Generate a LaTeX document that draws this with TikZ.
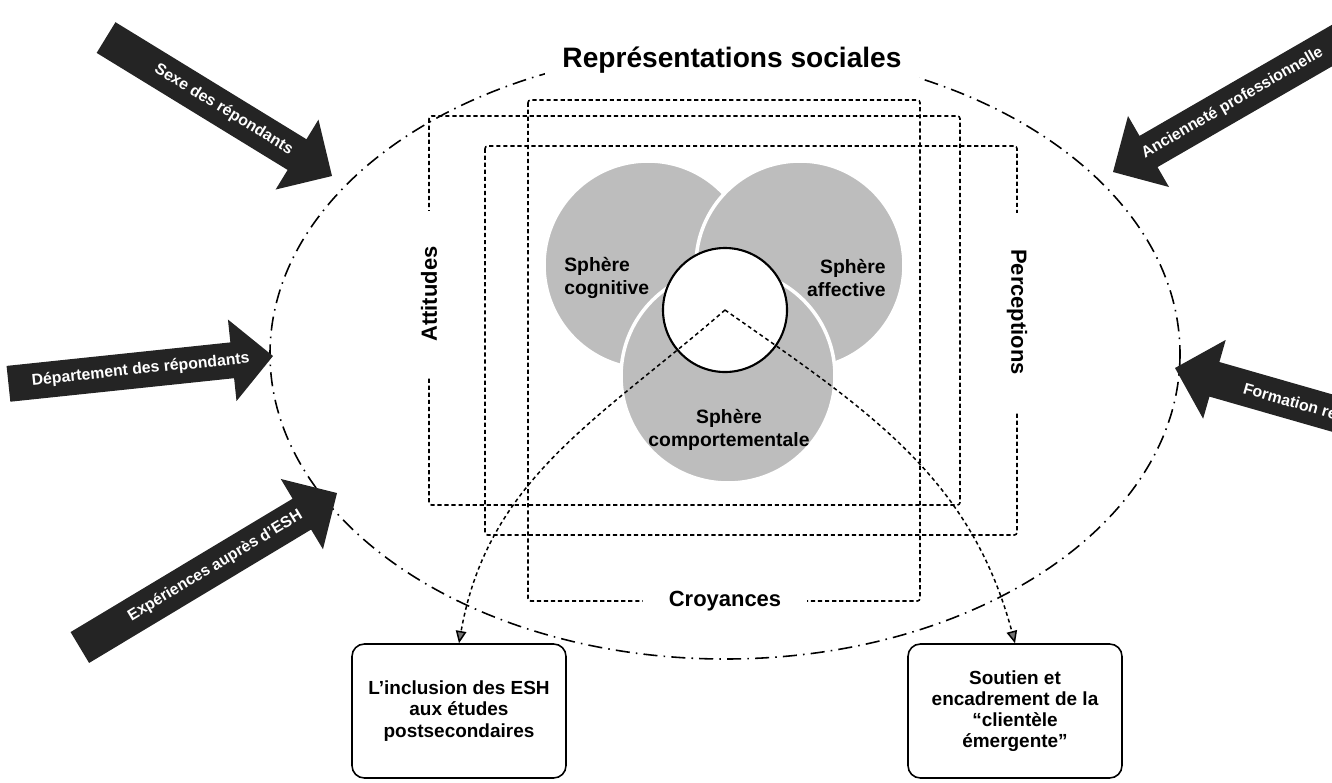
\documentclass[tikz,border=0pt]{standalone}
\usepackage{fontspec}
\setmainfont{Liberation Sans}
\usetikzlibrary{arrows.meta}
\definecolor{sombre}{gray}{0.14}
\definecolor{grisclair}{gray}{0.74}
\tikzset{
  contour/.style={line width=0.9pt, dash pattern=on 8pt off 3.5pt on 0.9pt off 3.5pt},
  cadre/.style={line width=0.9pt, dash pattern=on 2.4pt off 1.6pt, rounded corners=1.5pt},
  lien/.style={line width=0.85pt, dash pattern=on 2.2pt off 1.8pt, -{Triangle[length=7pt,width=6pt,fill=black!55]}},
  etiquette/.style={fill=white, inner ysep=2pt, font=\bfseries\fontsize{12.5}{15}\selectfont},
  sphere/.style={fill=grisclair, draw=white, line width=2pt},
  spheretexte/.style={font=\bfseries\fontsize{11}{13}\selectfont, inner sep=0pt},
  boite/.style={draw, line width=0.9pt, rounded corners=7pt, minimum width=4.28cm, minimum height=2.68cm, align=center, font=\bfseries\fontsize{10.8}{12}\selectfont},
  fleche/.style={fill=sombre},
  flechetexte/.style={text=white, font=\bfseries\fontsize{9}{10}\selectfont, transform shape, inner sep=0pt},
}
% #1 nom, #2 pointe, #3 angle, #4 longueur, #5 place du texte, #6 options, #7 texte
\newcommand{\facteur}[7]{
  \begin{scope}[shift={(#2)}, rotate=#3]
    \fill[fleche] (0,0) -- (-41,41) -- (-41,18) -- (-#4,18) -- (-#4,-18) -- (-41,-18) -- (-41,-41) -- cycle;
    \node[flechetexte, #6] (#1) at (-#5,0) {#7};
  \end{scope}
}
\begin{document}
\begin{tikzpicture}[x=0.02cm, y=-0.02cm]
    \useasboundingbox (0,0) rectangle (1332,782);
    \clip (0,0) rectangle (1332,782);
    % ovale
    \draw[contour] (725,354) ellipse [x radius=455, y radius=305];
    \node[fill=white, inner xsep=10pt, inner ysep=7pt, font=\bfseries\fontsize{16}{19}\selectfont] (titre) at (732,60) {Représentations sociales};
    % cadres
    \draw[cadre] (528,100) rectangle (920,601);
    \draw[cadre] (429,116) rectangle (960,505);
    \draw[cadre] (485,146) rectangle (1017,535);
    \node[etiquette, rotate=90, inner xsep=20pt] (attitudes) at (429,294) {Attitudes};
    \node[etiquette, rotate=-90, inner xsep=20.5pt] (perceptions) at (1017,312) {Perceptions};
    \node[etiquette, inner xsep=14.7pt] (croyances) at (725,601) {Croyances};
    % spheres
    \filldraw[sphere] (648,265) circle (104);
    \filldraw[sphere] (800,265) circle (104);
    \filldraw[sphere] (728,376) circle (107);
    \coordinate (noyau) at (725,310);
    \filldraw[fill=white, draw=black, line width=1.2pt] (noyau) circle (62);
    \node[spheretexte, anchor=west, align=left] (cognitive) at (564,278) {Sphère\\cognitive};
    \node[spheretexte, anchor=east, align=right] (affective) at (886,278) {Sphère\\affective};
    \node[spheretexte, align=center] (comportementale) at (729,430) {Sphère\\comportementale};
    % issues
    \node[boite] (inclusion) at (459,711) {L’inclusion des ESH\\aux études\\postsecondaires};
    \node[boite] (soutien) at (1015,711) {Soutien et\\encadrement de la\\“clientèle\\émergente”};
    \draw[lien] (noyau) to[out=221, in=80] (inclusion.north);
    \draw[lien] (noyau) to[out=-35, in=105] (soutien.north);
    % facteurs
    \facteur{sexe}{332,176}{-31.5}{265}{127}{}{Sexe des répondants}
    \facteur{anciennete}{1113,172}{210}{340}{138}{rotate=180}{Ancienneté professionnelle}
    \facteur{departement}{273,356}{6}{266}{133}{}{Département des répondants}
    \facteur{formation}{1175,368}{164}{260}{120}{rotate=180}{Formation re}
    \facteur{experiences}{337,493}{31}{300}{142}{}{Expériences auprès d’ESH}
\end{tikzpicture}
\end{document}
